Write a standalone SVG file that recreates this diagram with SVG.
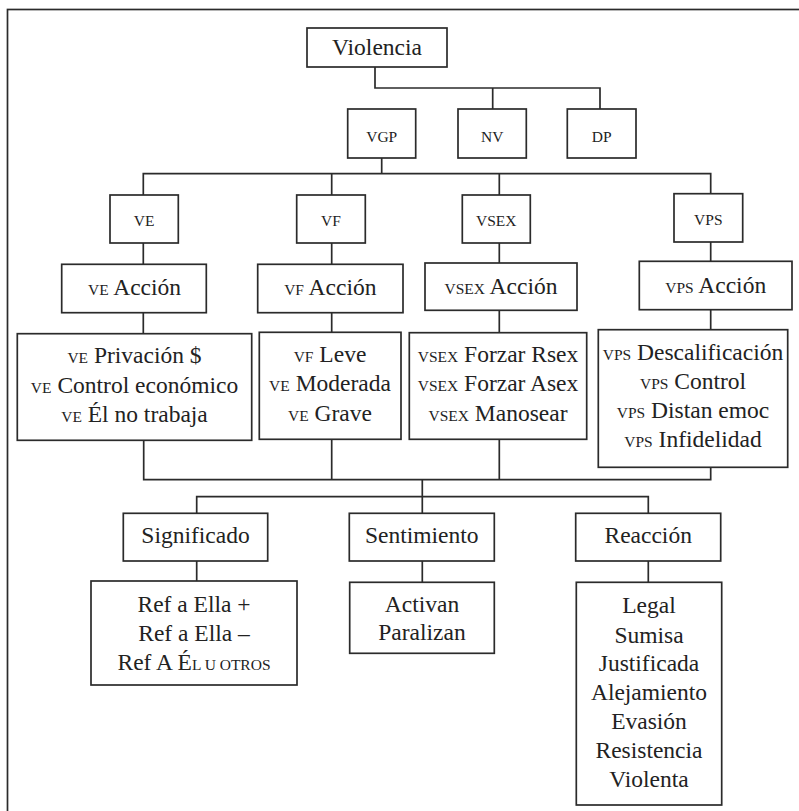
<svg xmlns="http://www.w3.org/2000/svg" width="799" height="811" viewBox="0 0 799 811" font-family="Liberation Serif, DejaVu Serif, serif">
  <style>
    .box { fill: #ffffff; stroke: #2b2b2b; stroke-width: 1.7; }
    .frame { fill: none; stroke: #2b2b2b; stroke-width: 1.7; }
    .wire { fill: none; stroke: #2b2b2b; stroke-width: 1.7; }
    text { font-family: 'Liberation Serif', 'DejaVu Serif', serif; fill: #222222; text-anchor: middle; font-size: 23.5px; }
    .lbl { font-size: 15.5px; }
    .sc { font-size: 15.5px; }
  </style>
  <rect width="799" height="811" fill="#ffffff"/>
  <!-- outer frame (runs past the right and bottom edges) -->
  <rect class="frame" x="7.5" y="9.5" width="810" height="820"/>

  <g id="connectors">
    <path class="wire" d="M375 67 V88 H600 V109 M492.7 88 V109"/>
    <path class="wire" d="M381.7 158 V173.7 M143.3 195 V173.7 H710.7 V193.7 M331.7 173.7 V195 M499.3 173.7 V195"/>
    <path class="wire" d="M143.3 243 V264.3 M143.3 312.7 V333.7"/>
    <path class="wire" d="M331.7 243 V264.3 M331.7 312.7 V332.3"/>
    <path class="wire" d="M499.3 243 V263 M499.3 310.3 V332.7"/>
    <path class="wire" d="M710.7 242 V261.3 M710.7 309.7 V329.7"/>
    <path class="wire" d="M143.7 440.3 V479.7 H710.7 V467.3 M331.7 439.3 V479.7 M499.3 439.3 V479.7"/>
    <path class="wire" d="M422.3 479.7 V496.7 M196.7 513.3 V496.7 H648.3 V513.3 M422.3 496.7 V513.3"/>
    <path class="wire" d="M196.7 561 V581 M422.3 561 V582.3 M648.3 561 V582.3"/>
  </g>

  <g id="violencia">
    <rect class="box" x="307" y="28" width="140" height="39"/>
    <text x="377" y="54.5">Violencia</text>
  </g>

  <g id="vgp">
    <rect class="box" x="347.7" y="109" width="68" height="49"/>
    <text class="lbl" x="381.7" y="142">VGP</text>
  </g>
  <g id="nv">
    <rect class="box" x="458" y="109" width="68.3" height="49"/>
    <text class="lbl" x="492.2" y="142">NV</text>
  </g>
  <g id="dp">
    <rect class="box" x="567.3" y="109" width="68.7" height="49"/>
    <text class="lbl" x="601.7" y="142">DP</text>
  </g>

  <g id="ve">
    <rect class="box" x="110" y="195" width="68.3" height="48"/>
    <text class="lbl" x="144.2" y="226">VE</text>
  </g>
  <g id="vf">
    <rect class="box" x="296.7" y="195" width="68.6" height="48"/>
    <text class="lbl" x="331" y="226">VF</text>
  </g>
  <g id="vsex">
    <rect class="box" x="462.3" y="195" width="68" height="48"/>
    <text class="lbl" x="496.3" y="226">VSEX</text>
  </g>
  <g id="vps">
    <rect class="box" x="674" y="193.7" width="68.7" height="48.3"/>
    <text class="lbl" x="708.3" y="225">VPS</text>
  </g>

  <g id="ve-accion">
    <rect class="box" x="61.7" y="264.3" width="144.6" height="48.4"/>
    <text x="134.5" y="295"><tspan class="sc">VE</tspan> Acción</text>
  </g>
  <g id="vf-accion">
    <rect class="box" x="257.7" y="264.3" width="145.3" height="48.4"/>
    <text x="330.3" y="295"><tspan class="sc">VF</tspan> Acción</text>
  </g>
  <g id="vsex-accion">
    <rect class="box" x="425" y="263" width="152" height="47.3"/>
    <text x="501" y="293.5"><tspan class="sc">VSEX</tspan> Acción</text>
  </g>
  <g id="vps-accion">
    <rect class="box" x="639.3" y="261.3" width="152.7" height="48.4"/>
    <text x="715.7" y="292.7"><tspan class="sc">VPS</tspan> Acción</text>
  </g>

  <g id="ve-items">
    <rect class="box" x="17.3" y="333.7" width="234.4" height="106.6"/>
    <text x="134.5" y="362.7"><tspan class="sc">VE</tspan> Privación $</text>
    <text x="134.5" y="393.3"><tspan class="sc">VE</tspan> Control económico</text>
    <text x="134.5" y="421.7"><tspan class="sc">VE</tspan> Él no trabaja</text>
  </g>
  <g id="vf-items">
    <rect class="box" x="259.3" y="332.3" width="141.7" height="107"/>
    <text x="330" y="361.7"><tspan class="sc">VF</tspan> Leve</text>
    <text x="330" y="391"><tspan class="sc">VE</tspan> Moderada</text>
    <text x="330" y="420.7"><tspan class="sc">VE</tspan> Grave</text>
  </g>
  <g id="vsex-items">
    <rect class="box" x="409.3" y="332.7" width="177.4" height="106.6"/>
    <text x="498" y="361.7"><tspan class="sc">VSEX</tspan> Forzar Rsex</text>
    <text x="498" y="390.7"><tspan class="sc">VSEX</tspan> Forzar Asex</text>
    <text x="498" y="420.7"><tspan class="sc">VSEX</tspan> Manosear</text>
  </g>
  <g id="vps-items">
    <rect class="box" x="598.3" y="329.7" width="189.4" height="137.6"/>
    <text x="693" y="360"><tspan class="sc">VPS</tspan> Descalificación</text>
    <text x="693" y="388.5"><tspan class="sc">VPS</tspan> Control</text>
    <text x="693" y="418.3"><tspan class="sc">VPS</tspan> Distan emoc</text>
    <text x="693" y="446.7"><tspan class="sc">VPS</tspan> Infidelidad</text>
  </g>

  <g id="significado">
    <rect class="box" x="123.3" y="513.3" width="144.4" height="47.7"/>
    <text x="195.5" y="543.3">Significado</text>
  </g>
  <g id="sentimiento">
    <rect class="box" x="349.3" y="513.3" width="145" height="47.7"/>
    <text x="421.8" y="543.3">Sentimiento</text>
  </g>
  <g id="reaccion">
    <rect class="box" x="575.7" y="513.3" width="145" height="47.7"/>
    <text x="648.2" y="543.3">Reacción</text>
  </g>

  <g id="significado-items">
    <rect class="box" x="91" y="581" width="206" height="104"/>
    <text x="194" y="611.7">Ref a Ella +</text>
    <text x="194" y="640.7">Ref a Ella –</text>
    <text x="194" y="670">Ref A É<tspan class="sc">L U OTROS</tspan></text>
  </g>
  <g id="sentimiento-items">
    <rect class="box" x="349.7" y="582.3" width="144.6" height="71"/>
    <text x="422" y="611.7">Activan</text>
    <text x="422" y="640">Paralizan</text>
  </g>
  <g id="reaccion-items">
    <rect class="box" x="576.3" y="582.3" width="145.4" height="222.7"/>
    <text x="649" y="613.3">Legal</text>
    <text x="649" y="642.7">Sumisa</text>
    <text x="649" y="671">Justificada</text>
    <text x="649" y="700">Alejamiento</text>
    <text x="649" y="729.3">Evasión</text>
    <text x="649" y="758.3">Resistencia</text>
    <text x="649" y="787.3">Violenta</text>
  </g>
</svg>
